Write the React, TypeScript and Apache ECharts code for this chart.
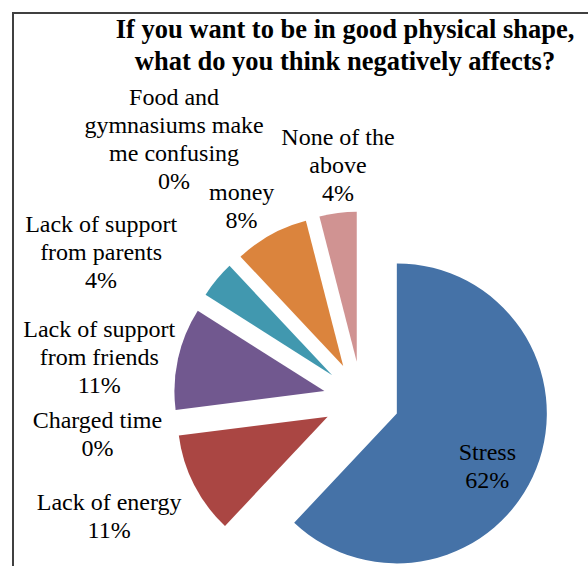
import React, { useEffect, useRef } from "react";
import * as echarts from "echarts";

const titleText = "If you want to be in good physical shape,\nwhat do you think negatively affects?";

const categories = [
  "Stress",
  "Lack of energy",
  "Charged time",
  "Lack of support from friends",
  "Lack of support from parents",
  "Food and gymnasiums make me confusing",
  "money",
  "None of the above",
];

const labelNames = [
  "Stress",
  "Lack of energy",
  "Charged time",
  "Lack of support\nfrom friends",
  "Lack of support\nfrom parents",
  "Food and\ngymnasiums make\nme confusing",
  "money",
  "None of the\nabove",
];

const values = [62, 11, 0, 11, 4, 0, 8, 4];

const colors = ["#4572A7", "#AA4643", "#89A54E", "#71588F", "#4198AF", "#93A9CF", "#DB843D", "#D09392"];

// label placement tweaks (styling only)
const labelShifts: [number, number][] = [
  [18, 24],
  [-149, 64],
  [-149, 20],
  [-149, -17],
  [-171, -73],
  [-108, -176],
  [-64, -92],
  [-9, -119],
];

const FONT = "'Liberation Serif', 'Times New Roman', serif";

export default function App() {
  const ref = useRef<HTMLDivElement>(null);
  useEffect(() => {
    if (!ref.current) return;
    const chart = echarts.init(ref.current, undefined, { renderer: "svg" });
    const data = categories.map((name, i) => ({
      name,
      value: values[i],
      selected: true,
      itemStyle: { color: colors[i] },
      label: {
        formatter: () => `${labelNames[i]}\n${values[i]}%`,
      },
    }));
    chart.setOption({
      animation: false,
      backgroundColor: "#ffffff",
      title: {
        text: titleText,
        left: 340,
        top: 8,
        textAlign: "center",
        textStyle: {
          fontFamily: FONT,
          fontSize: 26.5,
          fontWeight: "bold",
          color: "#000000",
          lineHeight: 32,
        },
      },
      graphic: [
        {
          type: "rect",
          shape: { x: 13, y: 13, width: 700, height: 700 },
          style: { fill: "none", stroke: "#404040", lineWidth: 2 },
          silent: true,
        },
      ],
      series: [
        {
          type: "pie",
          center: [361.5, 399.4],
          radius: 150,
          startAngle: 90,
          clockwise: true,
          minAngle: 0.01,
          selectedMode: "multiple",
          selectedOffset: 38,
          avoidLabelOverlap: false,
          minShowLabelAngle: 0,
          stillShowZeroSum: true,
          label: {
            show: true,
            position: "inside",
            fontFamily: FONT,
            fontSize: 24,
            lineHeight: 28,
            color: "#000000",
            align: "center",
          },
          labelLayout: (params: any) => {
            const s = labelShifts[params.dataIndex] || [0, 0];
            return { dx: s[0], dy: s[1] };
          },
          labelLine: { show: false },
          emphasis: { disabled: true },
          select: { itemStyle: { borderWidth: 0 } },
          itemStyle: { borderWidth: 0 },
          data,
        },
      ],
    });
    return () => chart.dispose();
  }, []);
  return (
    <div
      ref={ref}
      style={{ position: "absolute", left: 0, top: 0, width: 588, height: 566 }}
    />
  );
}
